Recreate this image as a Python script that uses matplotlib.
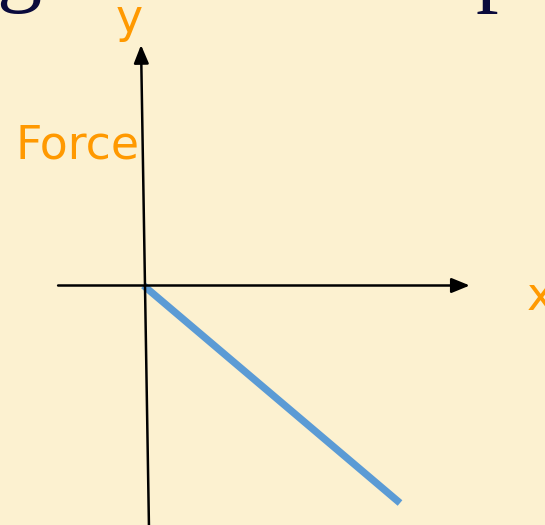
import matplotlib
matplotlib.use("Agg")
import matplotlib.pyplot as plt

# Data (schematic: force vs displacement, F = -k x)
displacement = [0.0, 1.0]
force = [0.0, -1.0]
axis_labels = ["x", "y"]
force_label = "Force"
header_text = "g does not depend"

BG = "#FCF1D0"
ORANGE = "#FF9900"
BLUE = "#5B9BD5"

fig = plt.figure(figsize=(5.45, 5.25), dpi=100, facecolor=BG)
ax = fig.add_axes([0, 0, 1, 1])
ax.set_facecolor(BG)
ax.set_xlim(-0.5595, 1.5653)
ax.set_ylim(-1.1011, 1.3126)
ax.axis("off")

# axes arrows
ax.annotate("", xy=(1.272, 0.0), xytext=(-0.333, 0.0),
            arrowprops=dict(arrowstyle="-|>,head_length=1.1,head_width=0.45",
                            color="black", lw=1.8, shrinkA=0, shrinkB=0))
ax.annotate("", xy=(-0.0097, 1.1057), xytext=(0.0214, -1.12),
            arrowprops=dict(arrowstyle="-|>,head_length=1.1,head_width=0.45",
                            color="black", lw=1.8, shrinkA=0, shrinkB=0))

# force line
ax.plot(displacement, force, color=BLUE, lw=5.2, solid_capstyle="butt")

# labels
ax.text(-0.0565, 1.1655, axis_labels[1], color=ORANGE, fontsize=33,
        ha="center", va="baseline", family="DejaVu Sans")
ax.text(1.4951, -0.1126, axis_labels[0], color=ORANGE, fontsize=33,
        ha="left", va="baseline", family="DejaVu Sans")
ax.text(-0.501, 0.586, force_label, color=ORANGE, fontsize=33,
        ha="left", va="baseline", family="DejaVu Sans")

# clipped header text from slide
fig.text(-0.005, 1.0 + 5 / 525, header_text, color="#0A0A3C", fontsize=65,
         ha="left", va="baseline", family="Liberation Serif")

fig.savefig("out.png", dpi=100, facecolor=BG)
